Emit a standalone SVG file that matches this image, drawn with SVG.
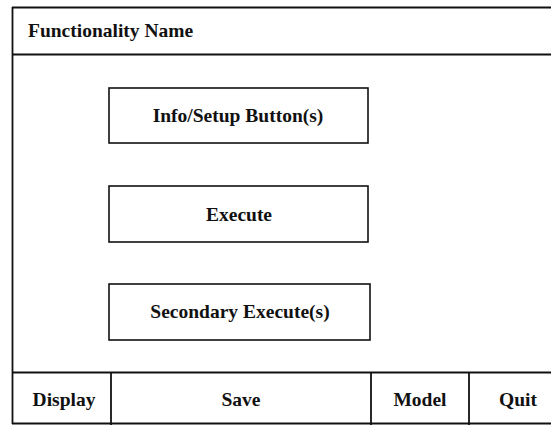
<svg xmlns="http://www.w3.org/2000/svg" width="551" height="425" viewBox="0 0 551 425">
<style>
.ln{stroke:#111;stroke-width:1.8;fill:none}
.bx{stroke:#111;stroke-width:1.6;fill:#fff}
.t{font-family:"Liberation Serif","Times New Roman",serif;font-weight:bold;font-size:19.5px;fill:#111;text-anchor:middle}
</style>
<rect width="551" height="425" fill="#fff"/>
<g id="frame">
<path class="ln" d="M12 7.5H551M12.5 7V424M12 54.5H551M12 372.5H551M12 423.5H551"/>
<text class="t" x="28" y="37" style="text-anchor:start">Functionality Name</text>
</g>
<g id="info">
<rect class="bx" x="109" y="88" width="259" height="55"/>
<text class="t" x="238" y="122">Info/Setup Button(s)</text>
</g>
<g id="execute">
<rect class="bx" x="109" y="186" width="259" height="56"/>
<text class="t" x="239" y="221">Execute</text>
</g>
<g id="secondary">
<rect class="bx" x="109" y="284" width="261" height="56"/>
<text class="t" x="240" y="318">Secondary Execute(s)</text>
</g>
<g id="display">
<text class="t" x="64" y="406">Display</text>
</g>
<g id="save">
<path class="ln" d="M111 372V425"/>
<text class="t" x="241" y="406">Save</text>
</g>
<g id="model">
<path class="ln" d="M371 372V425"/>
<text class="t" x="420" y="406">Model</text>
</g>
<g id="quit">
<path class="ln" d="M469 372V425"/>
<text class="t" x="518" y="406">Quit</text>
</g>
<g id="connectors"></g>
</svg>
